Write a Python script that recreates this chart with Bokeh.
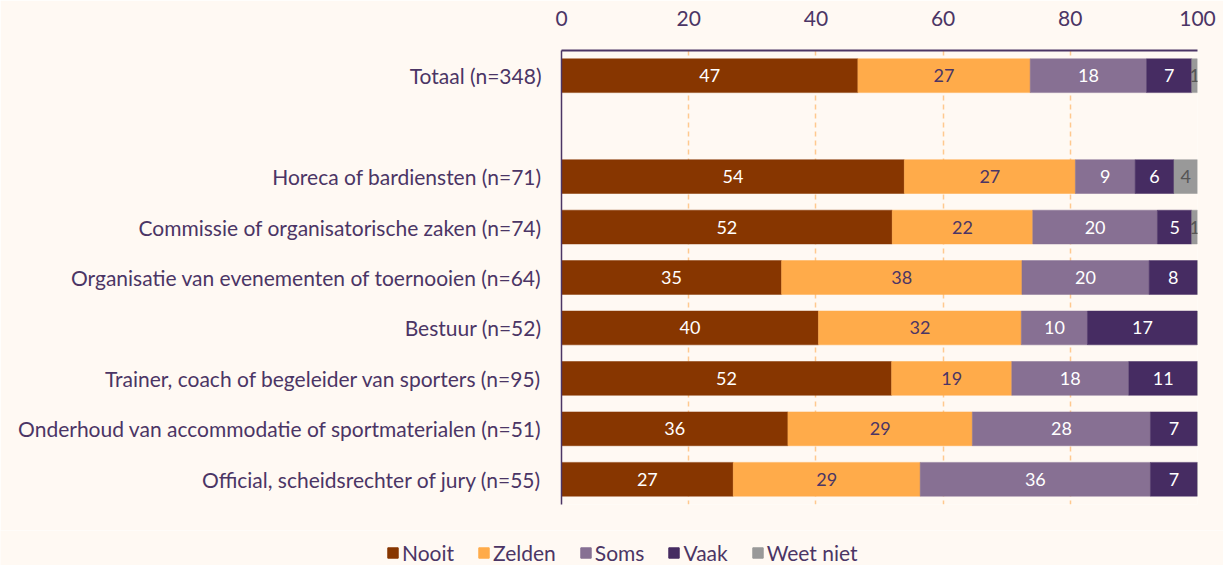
from bokeh.plotting import figure
from bokeh.layouts import column
from bokeh.models import Range1d, FixedTicker, Legend, LegendItem, ColumnDataSource
from bokeh.core.properties import value
from bokeh.embed import file_html
from bokeh.resources import INLINE

categories = [
    "Totaal (n=348)",
    "",
    "Horeca of bardiensten (n=71)",
    "Commissie of organisatorische zaken (n=74)",
    "Organisatie van evenementen of toernooien (n=64)",
    "Bestuur (n=52)",
    "Trainer, coach of begeleider van sporters (n=95)",
    "Onderhoud van accommodatie of sportmaterialen (n=51)",
    "Official, scheidsrechter of jury (n=55)",
]
series = ["Nooit", "Zelden", "Soms", "Vaak", "Weet niet"]
nooit = [46.6, None, 53.9, 52.0, 34.6, 40.4, 51.9, 35.6, 27.0]
zelden = [27.1, None, 26.9, 22.1, 37.8, 31.9, 18.9, 29.0, 29.4]
soms = [18.3, None, 9.4, 19.6, 20.0, 10.4, 18.4, 28.0, 36.2]
vaak = [7.1, None, 6.1, 5.4, 7.6, 17.3, 10.8, 7.4, 7.4]
weet_niet = [0.9, None, 3.7, 0.9, 0.0, 0.0, 0.0, 0.0, 0.0]
x_ticks = [0, 20, 40, 60, 80, 100]

colors = ["#873600", "#FFAB4A", "#877093", "#462C62", "#999999"]
label_colors = ["#ffffff", "#4b3565", "#ffffff", "#ffffff", "#555555"]
BG = "#FFF9F3"
TXT = "#4b3565"
FONT = "Lato"

p = figure(width=1223, height=530, output_backend="svg", toolbar_location=None,
           x_range=Range1d(0, 100), y_range=Range1d(8.5, -0.5),
           x_axis_location="above",
           min_border_left=561, min_border_right=26, min_border_top=50, min_border_bottom=26)
p.frame_align = False
p.background_fill_color = BG
p.border_fill_color = BG
p.outline_line_color = None

p.xaxis.ticker = FixedTicker(ticks=x_ticks)
p.xaxis.major_tick_line_color = None
p.xaxis.minor_tick_line_color = None
p.xaxis.axis_line_color = TXT
p.xaxis.axis_line_width = 2
p.xaxis.major_label_text_color = TXT
p.xaxis.major_label_text_font = FONT
p.xaxis.major_label_text_font_size = "21px"
p.xaxis.major_label_standoff = 19

ypos = [i for i, c in enumerate(categories) if c]
p.yaxis.ticker = FixedTicker(ticks=ypos)
p.yaxis.major_label_overrides = {i: categories[i] for i in ypos}
p.yaxis.major_tick_line_color = None
p.yaxis.minor_tick_line_color = None
p.yaxis.axis_line_color = TXT
p.yaxis.axis_line_width = 1.5
p.yaxis.major_label_text_color = TXT
p.yaxis.major_label_text_font = FONT
p.yaxis.major_label_text_font_size = "21px"
p.yaxis.major_label_standoff = 14

p.ygrid.grid_line_color = None
p.xgrid.grid_line_color = "#FFC98F"
p.xgrid.grid_line_dash = "5 4"
p.xgrid.grid_line_width = 1.5

data_series = [nooit, zelden, soms, vaak, weet_niet]
rows = [i for i, c in enumerate(categories) if c]
left = {r: 0.0 for r in rows}
for name, vals, col, lcol in zip(series, data_series, colors, label_colors):
    ys, ls, rs, xs, labs = [], [], [], [], []
    for r in rows:
        v = vals[r]
        ys.append(r)
        ls.append(left[r])
        rs.append(left[r] + v)
        xs.append(left[r] + v / 2)
        labs.append(str(int(round(v))) if v > 0 else "")
        left[r] += v
    src = ColumnDataSource(dict(y=ys, left=ls, right=rs, x=xs, lab=labs))
    p.hbar(y="y", left="left", right="right", height=0.67, source=src,
           fill_color=col, line_color=col, line_width=0.5)
    p.text(x="x", y="y", text="lab", source=src, text_align="center",
           text_baseline="middle", text_color=lcol, text_font=value(FONT),
           text_font_size="18px")

# legend strip below the chart
lg = figure(width=1223, height=35, output_backend="svg", toolbar_location=None,
            x_range=Range1d(0, 1), y_range=Range1d(0, 1),
            min_border_left=0, min_border_right=0, min_border_top=0, min_border_bottom=0)
lg.frame_align = False
lg.axis.visible = False
lg.grid.grid_line_color = None
lg.background_fill_color = BG
lg.border_fill_color = BG
lg.outline_line_color = None
items = []
for name, col in zip(series, colors):
    r = lg.hbar(y=[5], left=[5], right=[6], height=0.5, fill_color=col, line_color=col)
    items.append(LegendItem(label=name, renderers=[r]))
legend = Legend(items=items, orientation="horizontal", location=(386, 0),
                background_fill_alpha=0, border_line_color=None,
                label_text_color=TXT, label_text_font=FONT, label_text_font_size="21px",
                glyph_width=13, glyph_height=13, label_standoff=3, spacing=23,
                padding=0, margin=0, label_height=20)
lg.add_layout(legend, "center")

layout = column(p, lg, spacing=0)
open("out.html", "w").write(file_html(layout, INLINE))
